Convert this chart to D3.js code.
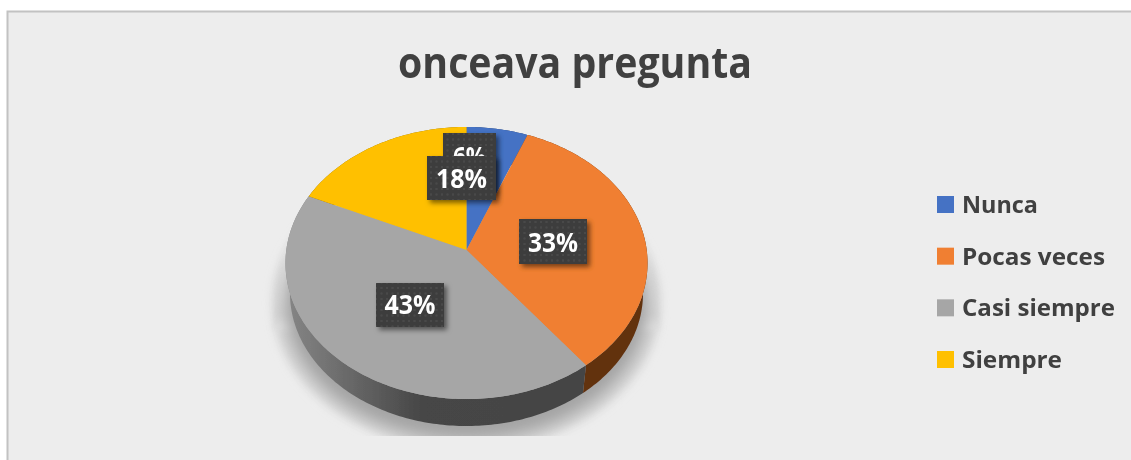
<!DOCTYPE html>
<html>
<head>
<meta charset="utf-8">
<script src="https://d3js.org/d3.v7.min.js"></script>
<style>
html, body { margin: 0; padding: 0; background: #fff; }
svg { display: block; font-family: 'Open Sans', sans-serif; }
</style>
</head>
<body>
<svg id="chart" width="1131" height="460"></svg>
<script>
const chartTitle = "onceava pregunta";
const categories = ["Nunca", "Pocas veces", "Casi siempre", "Siempre"];
// slice sizes, labels as printed on it
const sliceValues = [6, 33.5, 42.3, 18.2];
const sliceLabels = ["6%", "33%", "43%", "18%"];
const sliceColors = ["#4472c4", "#f07f30", "#a6a6a6", "#ffc000"];

const svg = d3.select("#chart");
const defs = svg.append("defs");

// the source is a slightly soft screenshot
defs.append("filter").attr("id", "soft")
    .attr("filterUnits", "userSpaceOnUse")
    .attr("x", 0).attr("y", 0).attr("width", 1131).attr("height", 460)
    .append("feGaussianBlur").attr("stdDeviation", 0.4);
const root = svg.append("g").attr("filter", "url(#soft)");

// frame of the chart area, only left and top edges show in the picture
root.append("rect").attr("x", 7.5).attr("y", 11.5).attr("width", 1130).attr("height", 460)
    .attr("fill", "#ededed").attr("stroke", "#c2c2c2").attr("stroke-width", 2);

root.append("text")
    .attr("x", 575).attr("y", 78)
    .attr("text-anchor", "middle")
    .attr("textLength", 354).attr("lengthAdjust", "spacingAndGlyphs")
    .style("font-size", "43px").style("font-weight", 700)
    .style("fill", "#404040")
    .text(chartTitle);

// the pie is a tilted disc, so project angle -> screen with a bit of perspective
const cx = 466.5, cy = 250, rx = 180.2, ry = 134.8, persp = -0.0956;
const depth = 30.7, bottomScale = 0.975;

function project(angle, r, scale, dy) {
    const sx = Math.sin(angle) * r;
    const u = -Math.cos(angle) * r;
    const w = 1 + persp * u;
    return [cx + rx * scale * sx / w, cy + dy + ry * scale * u / w];
}

const pie = d3.pie().sort(null).value(d => d);
const slices = pie(sliceValues);
const lineGen = d3.line();

function rimPoints(a0, a1, scale, dy) {
    const n = Math.max(2, Math.ceil((a1 - a0) * 60));
    return d3.range(n + 1).map(i => project(a0 + (a1 - a0) * i / n, 1, scale, dy));
}

// soft shadow under the disc, cut off flat at the bottom
const blurOuter = defs.append("filter").attr("id", "blurOuter")
    .attr("x", "-20%").attr("y", "-20%").attr("width", "140%").attr("height", "140%");
blurOuter.append("feGaussianBlur").attr("stdDeviation", 5);
const blurInner = defs.append("filter").attr("id", "blurInner")
    .attr("x", "-20%").attr("y", "-20%").attr("width", "140%").attr("height", "140%");
blurInner.append("feGaussianBlur").attr("stdDeviation", 7);
const blurEdge = defs.append("filter").attr("id", "blurEdge")
    .attr("x", "-20%").attr("y", "-20%").attr("width", "140%").attr("height", "140%");
blurEdge.append("feGaussianBlur").attr("stdDeviation", 3);
defs.append("clipPath").attr("id", "shadowClip")
    .append("rect").attr("x", 240).attr("y", 200).attr("width", 460).attr("height", 236);

const fade = defs.append("linearGradient").attr("id", "shadowFade")
    .attr("x1", 0).attr("x2", 0).attr("y1", 0).attr("y2", 1);
fade.append("stop").attr("offset", "0%").attr("stop-color", "#ededed");
fade.append("stop").attr("offset", "80%").attr("stop-color", "#d2d2d2");
fade.append("stop").attr("offset", "100%").attr("stop-color", "#e2e2e2");

const shadow = root.append("g").attr("clip-path", "url(#shadowClip)");
shadow.append("path")
    .attr("d", lineGen(rimPoints(0, 2 * Math.PI, 1.07, 40)) + "Z")
    .attr("fill", "#d2d2d2")
    .attr("filter", "url(#blurOuter)");
// flaring sides of the shadow, from the disc's widest point down to the shadow's
shadow.append("path")
    .attr("d", lineGen([[cx - rx, cy], [cx + rx, cy], [cx + rx * 1.07, cy + 80], [cx - rx * 1.07, cy + 80]]) + "Z")
    .attr("fill", "url(#shadowFade)")
    .attr("filter", "url(#blurEdge)");
shadow.append("path")
    .attr("d", lineGen(rimPoints(0, 2 * Math.PI, 1.0, 40)) + "Z")
    .attr("fill", "#a4a4a4")
    .attr("filter", "url(#blurInner)");

// side wall
const grad = defs.append("linearGradient").attr("id", "sideGrey")
    .attr("gradientUnits", "userSpaceOnUse")
    .attr("x1", 286).attr("x2", 590).attr("y1", 0).attr("y2", 0);
grad.append("stop").attr("offset", "0%").attr("stop-color", "#868686");
grad.append("stop").attr("offset", "45%").attr("stop-color", "#464646");
grad.append("stop").attr("offset", "100%").attr("stop-color", "#444444");

const sideColors = ["#2a3f6b", "#62300f", "url(#sideGrey)", "#8a6a00"];
root.append("g").selectAll("path")
    .data(slices)
    .enter().append("path")
    .attr("d", d => {
        const top = rimPoints(d.startAngle, d.endAngle, 1, 0);
        const bottom = rimPoints(d.startAngle, d.endAngle, bottomScale, depth).reverse();
        return lineGen(top.concat(bottom)) + "Z";
    })
    .attr("fill", (d, i) => sideColors[i]);

// top face
root.append("g").selectAll("path")
    .data(slices)
    .enter().append("path")
    .attr("d", d => lineGen([[cx, cy]].concat(rimPoints(d.startAngle, d.endAngle, 1, 0))) + "Z")
    .attr("fill", (d, i) => sliceColors[i]);

// data labels: dark box with dot texture and drop shadow
const pat = defs.append("pattern").attr("id", "dots")
    .attr("patternUnits", "userSpaceOnUse").attr("width", 11).attr("height", 11);
pat.append("rect").attr("width", 11).attr("height", 11).attr("fill", "#3e3e3e");
[[1, 1], [6.5, 1], [1, 6.5], [6.5, 6.5]].forEach(p => {
    pat.append("rect").attr("x", p[0]).attr("y", p[1]).attr("width", 2).attr("height", 2).attr("fill", "#4a4a4a");
});

const dropShadow = defs.append("filter").attr("id", "labelShadow")
    .attr("x", "-20%").attr("y", "-20%").attr("width", "150%").attr("height", "150%");
dropShadow.append("feDropShadow")
    .attr("dx", 3).attr("dy", 3).attr("stdDeviation", 2.5)
    .attr("flood-color", "#000").attr("flood-opacity", 0.5);

// placement of each label: box x, y, width, height, then text baseline and width
const labelLayout = [
    [443, 133, 53, 60, 166, 33],
    [519, 219, 68, 45, 251.5, 50],
    [376, 283, 68, 44, 313.5, 51],
    [427, 156, 69, 44, 188, 51]
];

const labels = root.append("g").selectAll("g")
    .data(slices)
    .enter().append("g");

labels.append("rect")
    .attr("x", (d, i) => labelLayout[i][0])
    .attr("y", (d, i) => labelLayout[i][1])
    .attr("width", (d, i) => labelLayout[i][2])
    .attr("height", (d, i) => labelLayout[i][3])
    .attr("fill", "url(#dots)")
    .attr("filter", "url(#labelShadow)");

labels.append("text")
    .attr("x", (d, i) => labelLayout[i][0] + labelLayout[i][2] / 2)
    .attr("y", (d, i) => labelLayout[i][4])
    .attr("text-anchor", "middle")
    .attr("textLength", (d, i) => labelLayout[i][5])
    .attr("lengthAdjust", "spacingAndGlyphs")
    .style("font-size", "27px").style("font-weight", 700)
    .style("fill", "#fff")
    .text((d, i) => sliceLabels[i]);

// legend
const legendWidths = [76, 143, 153, 100];
const legendY = d3.scalePoint().domain(categories).range([204.5, 359.5]);
const legend = root.append("g").selectAll("g")
    .data(categories)
    .enter().append("g");
legend.append("rect")
    .attr("x", 937).attr("y", d => legendY(d) - 8.5)
    .attr("width", 17).attr("height", 17)
    .attr("fill", (d, i) => sliceColors[i]);
legend.append("text")
    .attr("x", 962).attr("y", d => legendY(d) + 8.5)
    .attr("textLength", (d, i) => legendWidths[i])
    .attr("lengthAdjust", "spacingAndGlyphs")
    .style("font-size", "23.5px").style("font-weight", 700)
    .style("fill", "#404040")
    .text(d => d);
</script>
</body>
</html>
